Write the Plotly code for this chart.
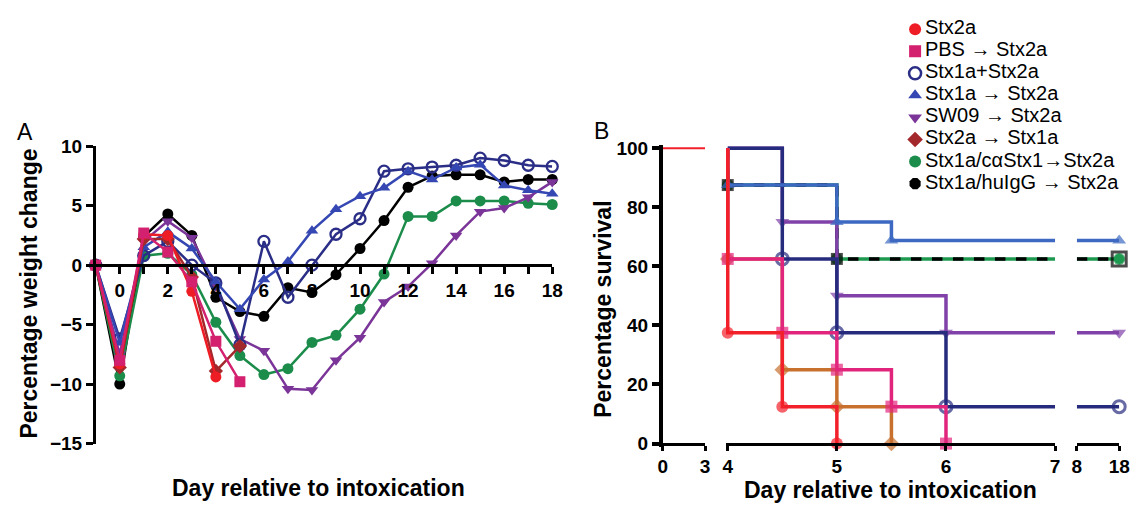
import plotly.graph_objects as go

W, H = 1144, 515

# ---------------- Panel A data: weight change (%) by day ----------------
days_A = list(range(-1, 19))
wt_stx2a = [0, -8.3, 2.6, 2.5, -2.2, -9.4]
wt_pbs = [0, -8.0, 2.7, 1.1, -1.4, -6.4, -9.8]
wt_stx1a_plus = [0, -6.2, 0.8, 2.0, 0.0, -1.5, -6.7, 2.0, -2.7, 0.0, 2.6, 3.9, 7.9, 8.1, 8.25, 8.4, 9.0, 8.8, 8.4, 8.3]
wt_stx1a_then = [0, -6.5, 1.5, 2.8, 1.4, -1.4, -3.7, -1.2, 0.3, 2.9, 4.7, 5.8, 6.5, 7.9, 7.2, 8.2, 8.45, 6.7, 6.3, 6.0]
wt_sw09 = [0, -7.5, 2.0, 3.7, 2.3, -1.8, -6.2, -7.2, -10.4, -10.5, -8.0, -6.1, -3.1, -1.8, 0.15, 2.5, 4.5, 4.8, 5.7, 7.0]
wt_stx2a_stx1a = [0, -8.6, 2.2, 2.2, -1.0, -8.9, -6.8]
wt_calpha = [0, -9.3, 0.8, 1.0, -0.8, -4.8, -7.6, -9.2, -8.7, -6.5, -5.9, -3.7, -0.75, 4.1, 4.1, 5.4, 5.4, 5.4, 5.2, 5.1]
wt_huigg = [0, -10.0, 2.4, 4.3, 2.5, -2.7, -3.9, -4.3, -1.9, -2.3, -0.8, 1.4, 3.75, 6.55, 7.5, 7.6, 7.6, 7.0, 7.2, 7.2]

xticks_A = list(range(0, 19))
xticklabels_A = [str(d) if d % 2 == 0 else "" for d in xticks_A]
yticks_A = [-15, -10, -5, 0, 5, 10]

# ---------------- Panel B data: survival (%) ----------------
pre_days = [0, 3]
pre_surv = [100, 100]
sv_t_stx2a = [4, 4, 4.5, 5];            sv_stx2a = [100, 37.5, 12.5, 0]
sv_t_pbs = [4, 4, 4.5, 5, 5.5, 6];      sv_pbs = [100, 62.5, 37.5, 25, 12.5, 0]
sv_t_stx2a_stx1a = [4, 4, 4.5, 5, 5.5]; sv_stx2a_stx1a = [100, 62.5, 25, 12.5, 0]
sv_t_stx1a_plus = [4, 4.5, 5, 6, 7];    sv_stx1a_plus = [100, 62.5, 37.5, 12.5, 12.5]
sv_t_stx1a_then = [4, 4, 5, 5.5, 7];    sv_stx1a_then = [100, 87.5, 75, 68.75, 68.75]
sv_t_sw09 = [4, 4.5, 5, 6, 7];          sv_sw09 = [100, 75, 50, 37.5, 37.5]
sv_t_calpha = [4, 4, 5, 7];             sv_calpha = [100, 87.5, 62.5, 62.5]
sv_t_huigg = [4, 4, 5, 7];              sv_huigg = [100, 87.5, 62.5, 62.5]
late_days = [8, 18]

legend_names = ["Stx2a", "PBS \u2192 Stx2a", "Stx1a+Stx2a", "Stx1a \u2192 Stx2a",
                "SW09 \u2192 Stx2a", "Stx2a \u2192 Stx1a", "Stx1a/c\u03b1Stx1\u2192Stx2a",
                "Stx1a/huIgG \u2192 Stx2a"]

# ---------------- styles ----------------
A_col = dict(red="#EE1C25", mag="#D3206F", navy="#2B2E86", blue="#3547B2",
             purple="#7B3599", dred="#A3282B", green="#1C8C4B", black="#000000")
B_col = dict(red="#F2202A", mag="#E2257C", navy="#262B7E", blue="#3D69C2",
             purple="#8041A8", orange="#C8712F", green="#1E9A50", black="#000000")

FONT = "Liberation Sans, Arial, sans-serif"
tickfont = dict(family=FONT, size=19, color="black", weight="bold")

fig = go.Figure()

def px_x(p):
    return p / W

def px_y(p):
    return 1 - p / H

# ---------------- Panel A traces ----------------
A_series = [
    (wt_huigg, A_col["black"], "circle"),
    (wt_calpha, A_col["green"], "circle"),
    (wt_sw09, A_col["purple"], "triangle-down"),
    (wt_stx1a_plus, A_col["navy"], "circle-open"),
    (wt_stx1a_then, A_col["blue"], "triangle-up"),
    (wt_stx2a_stx1a, A_col["dred"], "diamond"),
    (wt_stx2a, A_col["red"], "circle"),
    (wt_pbs, A_col["mag"], "square"),
]
for vals, col, sym in A_series:
    fig.add_trace(go.Scatter(
        x=days_A[:len(vals)], y=vals, mode="lines+markers",
        line=dict(color=col, width=2.5),
        marker=dict(color=col, symbol=sym, size=11,
                    line=dict(color=col, width=2.3 if sym.endswith("open") else 0)),
        cliponaxis=False, showlegend=False, xaxis="x", yaxis="y"))

# ---------------- Panel B traces ----------------
def msizes(ts, s=12):
    return [0 if (i == 0 or t == 7) else s for i, t in enumerate(ts)]

# early segment (0-3)
fig.add_trace(go.Scatter(x=pre_days, y=pre_surv, mode="lines",
                         line=dict(color=B_col["red"], width=2),
                         showlegend=False, xaxis="x2", yaxis="y2"))

B_series = [
    (sv_t_calpha, sv_calpha, B_col["green"], "circle", "solid", 3.5),
    (sv_t_huigg, sv_huigg, B_col["black"], "square", "dash", 3.5),
    (sv_t_sw09, sv_sw09, B_col["purple"], "triangle-down", "solid", 3.5),
    (sv_t_stx1a_plus, sv_stx1a_plus, B_col["navy"], "circle-open", "solid", 3.5),
    (sv_t_stx1a_then, sv_stx1a_then, B_col["blue"], "triangle-up", "solid", 3.5),
    (sv_t_stx2a_stx1a, sv_stx2a_stx1a, B_col["orange"], "diamond", "solid", 3.5),
    (sv_t_pbs, sv_pbs, B_col["mag"], "square", "solid", 3.5),
    (sv_t_stx2a, sv_stx2a, B_col["red"], "circle", "solid", 3.5),
]
for ts, vs, col, sym, dash, lw in B_series:
    fig.add_trace(go.Scatter(
        x=ts, y=vs, mode="lines+markers", line=dict(color=col, width=lw, dash=dash, shape="hv"),
        marker=dict(color=col, symbol=sym, size=msizes(ts),
                    line=dict(color=col, width=3 if sym.endswith("open") else 0)),
        cliponaxis=False, showlegend=False, xaxis="x3", yaxis="y2"))

# late segment (8-18): series still alive at day 7
for ts, vs, col, sym, dash, lw in B_series:
    if vs[-1] > 0:
        sym_end, size_end = sym, 12
        if col == B_col["black"]:
            sym_end, size_end = "square-open", 14
        fig.add_trace(go.Scatter(
            x=late_days, y=[vs[-1]] * len(late_days), mode="lines+markers",
            line=dict(color=col, width=lw, dash=dash),
            marker=dict(color=col, symbol=sym_end, size=[0, size_end],
                        line=dict(color=col, width=3 if sym_end.endswith("open") else 0)),
            cliponaxis=False, showlegend=False, xaxis="x4", yaxis="y2"))
# green end marker drawn on top of the black square
fig.add_trace(go.Scatter(x=late_days[-1:], y=sv_calpha[-1:], mode="markers",
                         marker=dict(color=B_col["green"], symbol="circle", size=10),
                         cliponaxis=False, showlegend=False, xaxis="x4", yaxis="y2"))

# ---------------- manual legend ----------------
leg_syms = ["circle", "square", "circle-open", "triangle-up", "triangle-down", "diamond", "circle", "octagon"]
leg_cols = [A_col["red"], A_col["mag"], A_col["navy"], A_col["blue"], A_col["purple"],
            A_col["dred"], A_col["green"], A_col["black"]]
for i, (name, sym, col) in enumerate(zip(legend_names, leg_syms, leg_cols)):
    fig.add_trace(go.Scatter(
        x=[0], y=[i], mode="markers",
        marker=dict(color=col, symbol=sym, size=12,
                    line=dict(color=col, width=2.5 if sym.endswith("open") else 0)),
        cliponaxis=False, showlegend=False, xaxis="x5", yaxis="y5"))
    fig.add_trace(go.Scatter(
        x=[0.045], y=[i], mode="text", text=[name], textposition="middle right",
        textfont=dict(family=FONT, size=20, color="black"),
        cliponaxis=False, showlegend=False, xaxis="x5", yaxis="y5"))

# ---------------- layout ----------------
axis_common = dict(showgrid=False, zeroline=False, showline=True, linecolor="black",
                   ticks="outside", tickcolor="black", tickfont=tickfont, fixedrange=True)

# Panel A pixel frame
xa_l, xa_r = 92, 555
ya_top, ya_bot = 142, 452
ya_zero = ya_top + (ya_bot - ya_top) * 10 / 25

# Panel B pixel frame; y range padded so thick lines at 0/100 are not clipped
yb_pad = 1.2
yb_top_px, yb_bot_px = 144, 452
ppu = (yb_bot_px - yb_top_px) / 100
xb_pad = 0.02
ppd = (1065 - 733) / 3

fig.update_layout(
    width=W, height=H, margin=dict(l=0, r=0, t=0, b=0),
    paper_bgcolor="white", plot_bgcolor="rgba(0,0,0,0)",
    showlegend=False,
    xaxis=dict(axis_common, domain=[px_x(xa_l), px_x(xa_r)], range=[-1, 18],
               anchor="free", position=px_y(ya_zero), linewidth=2.5, tickwidth=2.5, ticklen=7,
               tickvals=xticks_A, ticktext=xticklabels_A),
    yaxis=dict(axis_common, domain=[px_y(ya_bot), px_y(ya_top)], range=[-15, 10],
               anchor="x", linewidth=2.5, tickwidth=2.5, ticklen=7, tickvals=yticks_A),
    xaxis2=dict(axis_common, domain=[px_x(667), px_x(710)], range=[0, 3], anchor="free",
                position=px_y(yb_bot_px), linewidth=3, tickwidth=3, ticklen=5, tickvals=[0, 3]),
    xaxis3=dict(axis_common, domain=[px_x(733 - xb_pad * ppd), px_x(1065)], range=[4 - xb_pad, 7],
                anchor="free", position=px_y(yb_bot_px), linewidth=3, tickwidth=3, ticklen=5,
                tickvals=[4, 5, 6, 7]),
    xaxis4=dict(axis_common, domain=[px_x(1087), px_x(1130)], range=[8, 18], anchor="free",
                position=px_y(yb_bot_px), linewidth=3, tickwidth=3, ticklen=5, tickvals=[8, 18]),
    yaxis2=dict(axis_common, domain=[px_y(yb_bot_px + yb_pad * ppu), px_y(yb_top_px - yb_pad * ppu)],
                range=[-yb_pad, 100 + yb_pad], anchor="x2", linewidth=3.5, tickwidth=3.5, ticklen=7,
                tickvals=[0, 20, 40, 60, 80, 100]),
    xaxis5=dict(domain=[px_x(923), 1.0], range=[0, 1], visible=False, fixedrange=True),
    yaxis5=dict(domain=[px_y(181), px_y(20)], range=[7, 0], visible=False, fixedrange=True,
                anchor="x5"),
)

title_font = dict(family=FONT, size=23, color="black", weight="bold")
ann = [
    dict(text="A", x=px_x(20), y=px_y(127), font=dict(family=FONT, size=23, color="black")),
    dict(text="B", x=px_x(605), y=px_y(126), font=dict(family=FONT, size=23, color="black")),
    dict(text="Day relative to intoxication", x=px_x(167), y=px_y(498), font=title_font,
         xanchor="left"),
    dict(text="Day relative to intoxication", x=px_x(747), y=px_y(500), font=title_font,
         xanchor="left"),
    dict(text="Percentage weight change", x=px_x(24), y=px_y(296), font=title_font, textangle=-90),
    dict(text="Percentage survival", x=px_x(607), y=px_y(312), font=title_font, textangle=-90),
]
for a in ann:
    a.setdefault("xanchor", "center")
    a.update(xref="paper", yref="paper", showarrow=False, yanchor="middle")
fig.update_layout(annotations=ann)

fig.write_html("out.html", config={"displayModeBar": False},
               post_script="document.body.style.margin='0px';document.body.style.overflow='hidden';")
